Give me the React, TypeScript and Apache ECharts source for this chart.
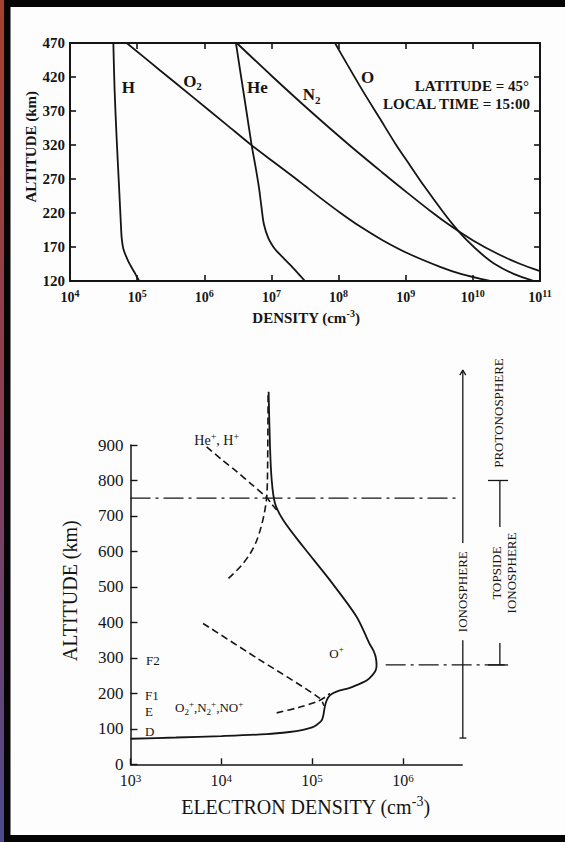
import React, { useEffect, useRef } from 'react';
import * as echarts from 'echarts';

const SERIF = "'Liberation Serif', 'Times New Roman', 'DejaVu Serif', serif";
const INK = '#151515';

// ---------- Upper panel: neutral number densities (cm^-3) vs altitude (km) ----------
const altitudeTicks = [120, 170, 220, 270, 320, 370, 420, 470];

const hAltitude = [470, 400, 330, 260, 200, 183, 167, 154, 144, 134, 127, 120];
const hDensity = [4.42e4, 4.62e4, 4.95e4, 5.37e4, 5.75e4, 5.89e4, 6.24e4, 7.0e4, 7.83e4, 8.97e4, 9.8e4, 1.07e5];

const o2Altitude = [470, 430, 390, 350, 319.5, 295, 271.5, 260, 240, 220, 200, 180, 160, 140, 130, 120];
const o2Density = [6.98e4, 2.18e5, 6.84e5, 2.14e6, 5.08e6, 1.08e7, 2.24e7, 3.15e7, 5.73e7, 1.07e8, 2.1e8, 4.52e8, 1.11e9, 3.4e9, 6.8e9, 1.8e10];

const heAltitude = [470, 420, 370, 319.5, 290, 257, 230, 203, 183, 170, 164, 155, 144, 132, 120];
const heDensity = [2.96e6, 3.54e6, 4.24e6, 5.08e6, 5.75e6, 6.53e6, 7.08e6, 7.74e6, 9.0e6, 1.07e7, 1.2e7, 1.47e7, 1.89e7, 2.45e7, 3.16e7];

const n2Altitude = [470, 420, 370, 320, 280, 250, 220, 200, 180, 160, 145, 134.6];
const n2Density = [3.04e6, 1.05e7, 3.78e7, 1.44e8, 4.43e8, 1.05e9, 2.55e9, 4.83e9, 9.93e9, 2.33e10, 5.1e10, 1.0e11];

const oAltitude = [470, 440, 400, 360, 320, 290, 260, 220, 200, 180, 160, 145, 130, 120];
const oDensity = [8.83e7, 1.32e8, 2.28e8, 4.06e8, 7.21e8, 1.16e9, 1.87e9, 3.7e9, 5.35e9, 8.13e9, 1.34e10, 2.12e10, 4.12e10, 8.13e10];

// ---------- Lower panel: electron density profile ----------
const densityTicks = [1e3, 1e4, 1e5, 1e6];

const neAltitude = [72, 75.5, 79.5, 85, 91, 97, 104, 111, 122, 134, 162, 181, 195, 205, 214, 223, 236, 250, 265, 280, 303, 320, 341, 416, 519, 613, 688, 736, 801, 895, 1050];
const neDensity = [1.0e3, 3.16e3, 1.0e4, 3.16e4, 5.62e4, 7.94e4, 1.0e5, 1.12e5, 1.26e5, 1.32e5, 1.38e5, 1.45e5, 1.58e5, 1.86e5, 2.51e5, 3.09e5, 3.98e5, 4.57e5, 5.01e5, 5.13e5, 5.01e5, 4.75e5, 4.27e5, 3.09e5, 1.57e5, 8.0e4, 4.82e4, 3.9e4, 3.59e4, 3.44e4, 3.32e4];

const oPlusUpperAltitude = [895, 860, 825, 790, 752, 735, 717];
const oPlusUpperDensity = [6.9e3, 1.0e4, 1.48e4, 2.14e4, 3.16e4, 3.55e4, 4.07e4];

const lightIonAltitude = [524, 560, 595, 630, 670, 710, 752, 800, 895, 1050];
const lightIonDensity = [1.2e4, 1.66e4, 2.09e4, 2.45e4, 2.75e4, 2.99e4, 3.16e4, 3.22e4, 3.25e4, 3.28e4];

const oPlusLowerAltitude = [397, 300, 186, 165];
const oPlusLowerDensity = [6.3e3, 2.45e4, 1.22e5, 1.35e5];

const molecularAltitude = [145, 160, 176, 190, 200];
const molecularDensity = [4.07e4, 7.08e4, 1.12e5, 1.41e5, 1.57e5];

// Region boundaries (km)
const protonosphereBase = 750;
const topsideBase = 280;
const topsideTop = 800;
const ionosphereBase = 74;

const pairs = (xs: number[], ys: number[]) => xs.map((x, i) => [x, ys[i]]);
const powerLabel = (v: number) => `{b|10}{s|${Math.round(Math.log10(v))}}`;

function buildOption(): any {
  const topRich = {
    b: { fontFamily: SERIF, fontWeight: 'bold', fontSize: 14, color: INK, lineHeight: 18 },
    s: { fontFamily: SERIF, fontWeight: 'bold', fontSize: 10, color: INK, lineHeight: 9, verticalAlign: 'top' },
  };
  const lowRich = {
    b: { fontFamily: SERIF, fontSize: 16, color: INK, lineHeight: 17 },
    s: { fontFamily: SERIF, fontSize: 11, color: INK, lineHeight: 9, verticalAlign: 'top' },
  };
  const axisLineTop = { show: true, onZero: false, lineStyle: { color: INK, width: 2 } };
  const tickTop = { show: true, inside: true, length: 6, lineStyle: { color: INK, width: 1.6 } };
  const axisLineLow = { show: true, onZero: false, lineStyle: { color: INK, width: 1.5 } };

  const curve = (xs: number[], ys: number[], xi: number, yi: number, style: any = {}, clip = true) => ({
    type: 'line',
    xAxisIndex: xi,
    yAxisIndex: yi,
    data: pairs(xs, ys),
    symbol: 'none',
    showSymbol: false,
    smooth: 0.3,
    silent: true,
    clip,
    lineStyle: { color: INK, width: 1.8, ...style },
  });
  // annotation strokes live on a wider, hidden log axis sharing the lower panel's scale
  const segment = (pts: number[][], style: any = {}) => ({
    type: 'line',
    xAxisIndex: 3,
    yAxisIndex: 3,
    data: pts,
    symbol: 'none',
    showSymbol: false,
    silent: true,
    clip: false,
    lineStyle: { color: INK, width: 1.3, ...style },
  });
  const dashed = { width: 1.6, type: [7, 4] };
  const dashDot = { width: 1.2, type: [20, 5, 3, 5] };

  const ionoX = 4.57e6;
  const topsideX = 1.17e7;
  const decadePx = 331.7 / Math.log10(4.5e6 / 1e3);
  const wideMax = 2e7;

  const text = (x: number, y: number, t: string, extra: any = {}, rot = 0) => ({
    type: 'text',
    x,
    y,
    rotation: rot,
    silent: true,
    style: {
      text: t,
      fontFamily: SERIF,
      fontSize: 13,
      fill: INK,
      align: 'center',
      verticalAlign: 'middle',
      ...extra,
    },
  });
  const boldRich = (size: number) => ({
    t: { fontFamily: SERIF, fontWeight: 'bold', fontSize: size, fill: INK, lineHeight: size + 4 },
    d: { fontFamily: SERIF, fontWeight: 'bold', fontSize: Math.round(size * 0.65), fill: INK, lineHeight: 8, verticalAlign: 'bottom' },
    p: { fontFamily: SERIF, fontWeight: 'bold', fontSize: Math.round(size * 0.65), fill: INK, lineHeight: 8, verticalAlign: 'top' },
  });
  const plainRich = (size: number) => ({
    t: { fontFamily: SERIF, fontSize: size, fill: INK, lineHeight: size + 4 },
    d: { fontFamily: SERIF, fontSize: Math.round(size * 0.7), fill: INK, lineHeight: 8, verticalAlign: 'bottom' },
    p: { fontFamily: SERIF, fontSize: Math.round(size * 0.7), fill: INK, lineHeight: 8, verticalAlign: 'top' },
  });

  return {
    animation: false,
    backgroundColor: '#fdfdfd',
    grid: [
      { left: 70, top: 43, width: 470, height: 238 },
      { left: 130.5, top: 445, width: 331.7, height: 319.3 },
      { left: 130.5, top: 445, width: decadePx * Math.log10(wideMax / 1e3), height: 319.3 },
    ],
    xAxis: [
      {
        gridIndex: 0, type: 'log', logBase: 10, min: 1e4, max: 1e11, position: 'bottom',
        axisLine: axisLineTop, axisTick: tickTop, minorTick: { show: false },
        axisLabel: { margin: 7, formatter: powerLabel, rich: topRich },
        splitLine: { show: false },
      },
      {
        gridIndex: 0, type: 'log', logBase: 10, min: 1e4, max: 1e11, position: 'top',
        axisLine: axisLineTop, axisTick: tickTop, axisLabel: { show: false }, splitLine: { show: false },
      },
      {
        gridIndex: 1, type: 'log', logBase: 10, min: 1e3, max: 4.5e6, position: 'bottom',
        axisLine: axisLineLow,
        axisTick: { show: true, inside: true, length: 6, customValues: densityTicks, lineStyle: { color: INK, width: 1.4 } },
        axisLabel: { margin: 8, customValues: densityTicks, formatter: powerLabel, rich: lowRich },
        splitLine: { show: false },
      },
      { gridIndex: 2, type: 'log', logBase: 10, min: 1e3, max: wideMax, show: false },
    ],
    yAxis: [
      {
        gridIndex: 0, type: 'value', min: 120, max: 470,
        axisLine: axisLineTop,
        axisTick: { ...tickTop, customValues: altitudeTicks },
        axisLabel: { customValues: altitudeTicks, margin: 5, fontFamily: SERIF, fontWeight: 'bold', fontSize: 15, color: INK },
        splitLine: { show: false },
      },
      {
        gridIndex: 0, type: 'value', min: 120, max: 470, position: 'right',
        axisLine: axisLineTop,
        axisTick: { ...tickTop, customValues: altitudeTicks },
        axisLabel: { show: false }, splitLine: { show: false },
      },
      {
        gridIndex: 1, type: 'value', min: 0, max: 900, interval: 100,
        axisLine: axisLineLow,
        axisTick: { show: true, inside: true, length: 7, lineStyle: { color: INK, width: 1.4 } },
        axisLabel: { margin: 7, fontFamily: SERIF, fontSize: 17, color: INK },
        splitLine: { show: false },
      },
      { gridIndex: 2, type: 'value', min: 0, max: 900, show: false },
    ],
    series: [
      curve(hDensity, hAltitude, 0, 0),
      curve(o2Density, o2Altitude, 0, 0),
      curve(heDensity, heAltitude, 0, 0),
      curve(n2Density, n2Altitude, 0, 0),
      curve(oDensity, oAltitude, 0, 0),

      curve(neDensity, neAltitude, 2, 2, { width: 1.8 }, false),
      curve(oPlusUpperDensity, oPlusUpperAltitude, 2, 2, dashed, false),
      curve(lightIonDensity, lightIonAltitude, 2, 2, dashed, false),
      curve(oPlusLowerDensity, oPlusLowerAltitude, 2, 2, dashed, false),
      curve(molecularDensity, molecularAltitude, 2, 2, dashed, false),

      // layer boundaries
      segment([[1e3, protonosphereBase], [3.95e6, protonosphereBase]], dashDot),
      segment([[6.46e5, topsideBase], [1.44e7, topsideBase]], dashDot),

      // ionosphere arrow
      segment([[ionoX, ionosphereBase], [ionoX, 350]]),
      segment([[ionoX, 624], [ionoX, 1111]]),
      segment([[4.24e6, 1097], [ionoX, 1111], [4.93e6, 1097]]),
      segment([[4.2e6, ionosphereBase], [5.0e6, ionosphereBase]]),

      // topside bracket
      segment([[topsideX, topsideBase], [topsideX, 342]]),
      segment([[topsideX, 669], [topsideX, topsideTop]]),
      segment([[8.65e6, topsideTop], [1.44e7, topsideTop]]),
      segment([[8.65e6, topsideBase], [1.44e7, topsideBase]]),
    ],
    graphic: [
      // scanned-page frame
      { type: 'rect', shape: { x: 0, y: 0, width: 565, height: 7 }, style: { fill: '#050505' }, silent: true },
      { type: 'rect', shape: { x: 0, y: 835, width: 565, height: 7 }, style: { fill: '#050505' }, silent: true },
      { type: 'rect', shape: { x: 0, y: 0, width: 10.5, height: 842 }, style: { fill: '#050505' }, silent: true },
      {
        type: 'rect', shape: { x: 0, y: 0, width: 4, height: 842 }, silent: true,
        style: {
          fill: new echarts.graphic.LinearGradient(0, 0, 0, 1, [
            { offset: 0, color: '#a8402c' },
            { offset: 0.5, color: '#8a3d55' },
            { offset: 1, color: '#4c4a8e' },
          ]),
        },
      },

      // upper panel labels
      text(128.3, 87.3, 'H', { fontWeight: 'bold', fontSize: 17 }),
      text(192.5, 81.3, '{t|O}{d|2}', { rich: boldRich(17) }),
      text(257.5, 87.3, 'He', { fontWeight: 'bold', fontSize: 17 }),
      text(311.7, 94.7, '{t|N}{d|2}', { rich: boldRich(17) }),
      text(367.5, 77.3, 'O', { fontWeight: 'bold', fontSize: 17 }),
      text(529, 85.7, 'LATITUDE = 45°', { fontWeight: 'bold', fontSize: 15, align: 'right' }),
      text(530, 103.7, 'LOCAL TIME = 15:00', { fontWeight: 'bold', fontSize: 15, align: 'right' }),
      text(306, 318, '{t|DENSITY (cm}{p|-3}{t|)}', { rich: boldRich(15) }),
      text(30.6, 146.7, 'ALTITUDE (km)', { fontWeight: 'bold', fontSize: 15 }, Math.PI / 2),

      // lower panel labels
      text(70.3, 590.7, 'ALTITUDE (km)', { fontSize: 20 }, Math.PI / 2),
      text(305.5, 806.7, '{t|ELECTRON DENSITY (cm}{p|-3}{t|)}', { rich: plainRich(20) }),
      text(146, 660, 'F2', { align: 'left' }),
      text(145, 695.7, 'F1', { align: 'left' }),
      text(145, 711.7, 'E', { align: 'left' }),
      text(145, 731, 'D', { align: 'left' }),
      text(216.7, 440, '{t|He}{p|+}{t|, H}{p|+}', { rich: plainRich(14) }),
      text(336.5, 653, '{t|O}{p|+}', { rich: plainRich(13) }),
      text(175, 707.7, '{t|O}{d|2}{p|+}{t|,N}{d|2}{p|+}{t|,NO}{p|+}', { rich: plainRich(13), align: 'left' }),
      text(462, 591.7, 'IONOSPHERE', { fontSize: 13 }, Math.PI / 2),
      text(504, 573, 'TOPSIDE\nIONOSPHERE', { fontSize: 13, lineHeight: 15 }, Math.PI / 2),
      text(498.5, 413, 'PROTONOSPHERE', { fontSize: 13 }, Math.PI / 2),
    ],
  };
}

export default function App() {
  const ref = useRef<HTMLDivElement>(null);
  useEffect(() => {
    if (!ref.current) return;
    const chart = echarts.init(ref.current, undefined, { renderer: 'svg' });
    chart.setOption(buildOption());
    return () => chart.dispose();
  }, []);
  return (
    <div
      ref={ref}
      style={{ position: 'absolute', left: 0, top: 0, width: 565, height: 842 }}
    />
  );
}
